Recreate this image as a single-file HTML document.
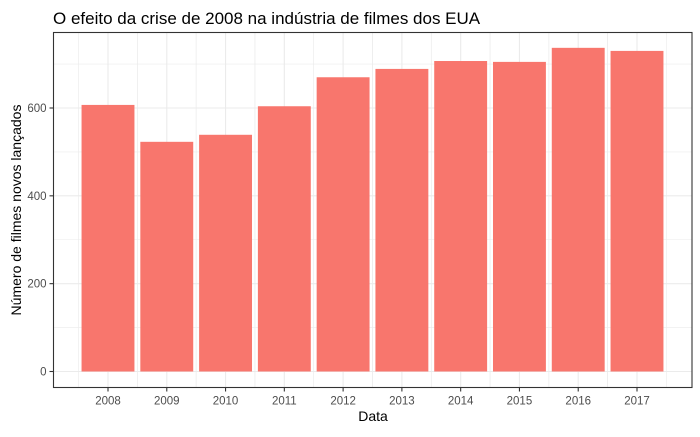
<!DOCTYPE html>
<html><head><meta charset="utf-8"><style>
body{margin:0;background:#fff;font-family:"Liberation Sans",Arial,sans-serif}
</style></head><body>
<svg width="700" height="432" xmlns="http://www.w3.org/2000/svg">
<text x="53" y="24" font-size="17" fill="#000">O efeito da crise de 2008 na indústria de filmes dos EUA</text>
<g id="grid"></g>
<g id="bars"></g>
<rect x="53.5" y="32.5" width="638.5" height="355" fill="none" stroke="#333" stroke-width="1.1"/>
<g id="axes"></g>
<text x="373" y="421" font-size="14" text-anchor="middle" fill="#000">Data</text>
<text transform="translate(21,210) rotate(-90)" font-size="14" text-anchor="middle" fill="#000">Número de filmes novos lançados</text>
</svg>
<script>
const categories=["2008","2009","2010","2011","2012","2013","2014","2015","2016","2017"];
const values=[607,523,539,604,670,689,707,705,737,730];
const yTicks=[0,200,400,600];
const NS="http://www.w3.org/2000/svg";
const L=53.5,R=692,T=32.5,B=387.5;
const y0=371.5, k=263.5/600;
const yS=v=>y0-v*k;
const step=(637-108)/9;
const xS=i=>108+i*step;
const bw=step*0.9;
function mk(t,a,p){const e=document.createElementNS(NS,t);for(const n in a)e.setAttribute(n,a[n]);p.appendChild(e);return e;}
const g=document.getElementById('grid'),bs=document.getElementById('bars'),ax=document.getElementById('axes');
for(let v=100;v<=800;v+=200){const y=yS(v);if(y>T&&y<B){const l=mk('line',{x1:L,x2:R,y1:y,y2:y,stroke:'#ebebeb','stroke-width':0.6},g);}}
yTicks.concat([800]).forEach(v=>{const y=yS(v);if(y>T&&y<B){const l=mk('line',{x1:L,x2:R,y1:y,y2:y,stroke:'#ebebeb','stroke-width':1.1},g);}});
categories.forEach((c,i)=>{
 const l=mk('line',{x1:xS(i),x2:xS(i),y1:T,y2:B,stroke:'#ebebeb','stroke-width':1.1},g);
 
 [xS(i)-step/2,xS(i)+step/2].forEach(x=>{if(x>L&&x<R)mk('line',{x1:x,x2:x,y1:T,y2:B,stroke:'#ebebeb','stroke-width':0.6},g);});
 const r=mk('rect',{x:xS(i)-bw/2,y:yS(values[i]),width:bw,height:yS(0)-yS(values[i]),fill:'#f8766d'},bs);
 
 mk('line',{x1:xS(i),x2:xS(i),y1:B,y2:B+4,stroke:'#333','stroke-width':1.1},ax);
 const t=mk('text',{x:xS(i),y:B+17,'font-size':11.5,'text-anchor':'middle',fill:'#4d4d4d'},ax);t.textContent=c;
 
});
yTicks.forEach(v=>{const y=yS(v);
 mk('line',{x1:L-4,x2:L,y1:y,y2:y,stroke:'#333','stroke-width':1.1},ax);
 const t=mk('text',{x:L-7,y:y+4,'font-size':11.5,'text-anchor':'end',fill:'#4d4d4d'},ax);t.textContent=v;
 
});
</script>
</body></html>
